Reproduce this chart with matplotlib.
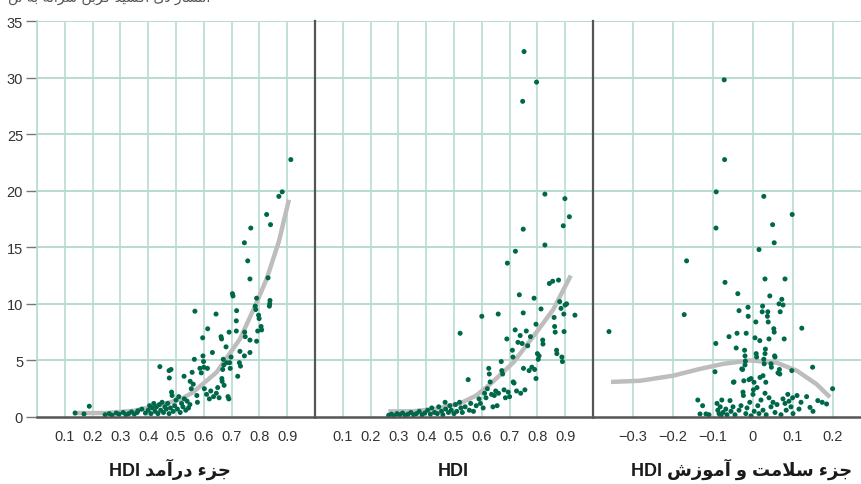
import matplotlib
matplotlib.use("Agg")
import matplotlib.pyplot as plt
from matplotlib import font_manager

# ---------------- data ----------------
income_x = [0.137,0.169,0.188,0.245,0.26,0.27,0.285,0.295,0.31,0.32,0.33,0.34,0.35,0.36,
            0.363,0.377,0.39,0.40,0.405,0.41,0.415,0.42,0.425,0.43,0.435,0.44,0.445,0.45,0.455,0.46,0.465,0.47,0.475,0.48,
            0.442,0.475,0.476,0.482,0.484,0.486,
            0.49,0.495,0.50,0.505,0.51,0.515,0.52,0.525,0.53,0.535,0.54,0.545,0.55,
            0.529,0.551,0.555,0.558,0.562,0.566,0.568,0.575,0.577,0.586,0.591,0.596,0.597,0.599,0.60,0.602,0.61,0.613,0.614,
            0.62,0.625,0.631,0.635,0.644,0.645,0.65,0.655,0.662,0.664,0.665,0.666,0.668,0.67,0.672,0.673,0.68,0.682,0.687,
            0.69,0.691,0.693,0.695,0.698,0.703,0.705,0.717,0.717,0.718,0.722,0.728,0.73,0.732,0.746,0.746,0.747,0.749,
            0.758,0.766,0.766,0.766,0.769,0.785,0.787,0.79,0.79,0.794,0.797,0.799,0.806,0.808,0.826,0.831,0.838,0.837,
            0.836,0.84,0.87,0.882,0.913]
income_y = [0.35,0.27,0.95,0.2,0.3,0.15,0.35,0.25,0.4,0.2,0.3,0.45,0.25,0.4,
            0.55,0.7,0.35,0.6,1.0,0.3,0.8,1.2,0.5,0.9,0.3,1.1,0.6,1.3,0.4,0.9,0.7,1.2,0.3,0.8,
            4.45,4.1,3.45,4.2,2.2,1.9,
            0.5,1.0,1.5,0.7,1.8,0.4,1.2,0.9,1.6,0.6,1.4,0.8,1.1,
            3.6,3.15,2.5,3.95,2.9,5.1,9.35,1.9,1.3,4.3,3.9,7.0,5.4,4.9,4.4,2.5,2.0,4.3,7.8,
            1.6,2.3,5.7,1.8,9.1,2.1,2.6,1.7,7.1,6.9,3.4,3.15,4.2,5.1,4.6,2.8,6.2,4.8,1.8,
            1.6,7.5,4.8,4.3,5.3,10.9,10.7,8.5,7.6,9.4,3.6,4.8,5.8,4.5,15.4,5.4,7.5,7.1,
            13.8,12.2,6.8,5.7,16.7,9.8,9.5,10.5,6.7,7.6,9.0,8.7,8.0,7.7,17.9,12.3,10.3,10.0,
            9.8,17.0,19.5,19.9,22.75]
income_fit_x = [0.13,0.25,0.35,0.45,0.52,0.562,0.646,0.73,0.79,0.826,0.87,0.906]
income_fit_y = [0.35,0.35,0.55,1.1,1.6,2.2,3.95,6.9,10.1,12.2,15.5,19.2]

hdi_x = [0.265,0.275,0.285,0.295,0.305,0.315,0.325,0.335,0.345,0.355,0.365,0.375,0.385,0.395,0.405,0.415,0.42,
         0.43,0.44,0.445,0.455,0.46,0.468,0.47,0.48,0.485,0.49,0.50,0.505,0.51,0.52,0.522,0.525,0.53,0.54,0.551,
         0.555,0.56,0.57,0.58,0.59,0.595,0.60,0.605,0.61,0.615,0.62,0.625,0.627,0.63,0.635,0.64,0.645,0.65,0.655,
         0.659,0.66,0.67,0.672,0.675,0.68,0.685,0.69,0.692,0.695,0.70,0.71,0.712,0.713,0.716,0.72,0.721,0.725,0.73,
         0.735,0.738,0.74,0.745,0.747,0.749,0.749,0.75,0.752,0.755,0.76,0.765,0.77,0.775,0.78,0.788,0.79,0.795,0.795,
         0.797,0.80,0.803,0.806,0.813,0.819,0.82,0.827,0.827,0.843,0.855,0.86,0.862,0.864,0.869,0.87,0.876,0.88,
         0.885,0.888,0.89,0.893,0.895,0.896,0.899,0.90,0.905,0.915,0.935]
hdi_y = [0.15,0.25,0.1,0.3,0.2,0.35,0.15,0.25,0.4,0.2,0.3,0.5,0.2,0.35,0.6,0.25,0.8,
         0.4,0.3,0.9,0.5,0.2,1.3,0.7,0.4,1.0,0.6,0.3,1.1,0.5,1.3,7.4,0.8,0.4,0.9,3.3,
         0.6,1.2,0.5,1.0,1.6,1.2,8.9,0.8,2.1,1.7,2.5,4.3,3.8,3.1,2.0,0.9,1.9,2.3,1.0,
         9.1,2.1,4.9,4.1,3.8,2.4,1.7,6.9,13.6,2.2,1.8,5.9,5.3,3.1,3.0,7.7,14.65,2.3,6.6,
         10.8,7.2,2.1,6.5,27.9,16.6,9.2,4.3,32.3,2.4,7.6,6.3,4.1,7.1,4.4,10.5,4.2,8.2,3.4,
         29.6,5.6,5.1,5.4,9.55,6.8,6.45,19.7,15.2,11.8,12.0,8.8,8.0,7.5,5.9,5.6,12.1,10.2,
         9.6,5.3,4.9,16.9,9.1,7.55,19.3,9.9,10.0,17.7,9.0]
hdi_fit_x = [0.264,0.35,0.43,0.522,0.58,0.63,0.713,0.797,0.857,0.92]
hdi_fit_y = [0.5,0.5,0.7,1.2,1.9,2.9,4.8,7.5,9.5,12.5]

health_x = [-0.36,-0.172,-0.166,-0.138,-0.126,-0.1325,-0.1175,-0.11,-0.095,-0.093,-0.0925,-0.092,-0.09,-0.088,
            -0.085,-0.082,-0.08,-0.078,-0.075,-0.072,-0.071,-0.07,-0.068,-0.065,-0.06,-0.0575,-0.055,-0.05,-0.049,
            -0.0475,-0.045,-0.042,-0.04,-0.038,-0.035,-0.035,-0.03,-0.028,-0.026,-0.025,-0.024,-0.023,-0.02,-0.021,
            -0.019,-0.02,-0.018,-0.017,-0.015,-0.0125,-0.012,-0.01,-0.008,-0.005,-0.005,0.0,0.001,0.0025,0.003,
            0.005,0.007,0.008,0.009,0.01,0.012,0.015,0.015,0.017,0.0175,0.02,0.024,0.023,0.025,0.025,0.027,0.027,
            0.028,0.03,0.031,0.03,0.03,0.032,0.033,0.037,0.036,0.038,0.04,0.04,0.042,0.045,0.046,0.045,0.049,0.05,
            0.052,0.053,0.053,0.054,0.055,0.055,0.06,0.0625,0.065,0.066,0.067,0.068,0.07,0.072,0.075,0.075,0.078,
            0.08,0.08,0.083,0.087,0.09,0.095,0.097,0.098,0.099,0.1,0.11,0.115,0.122,0.12,0.134,0.1425,0.149,0.15,
            0.162,0.173,0.184,0.199]
health_y = [7.55,9.05,13.8,1.5,1.0,0.27,0.27,0.2,4.0,6.5,16.7,19.9,1.2,0.6,
            0.3,0.9,0.1,1.5,0.4,29.8,22.75,11.9,0.7,0.2,7.1,1.45,0.5,0.9,3.07,
            3.1,0.2,6.1,7.4,10.9,9.4,0.6,1.0,4.25,4.2,2.2,1.9,3.2,5.4,5.9,
            4.95,4.6,0.3,7.4,0.8,9.7,8.9,3.3,1.3,3.4,0.1,2.0,2.4,3.07,0.5,
            7.0,8.4,5.6,5.3,2.6,1.0,14.8,0.3,6.75,3.5,1.5,9.8,9.3,3.65,0.6,19.5,5.1,
            4.7,12.2,6.0,5.6,2.1,3.07,0.2,9.3,8.9,8.4,6.9,1.7,10.7,4.7,4.4,0.9,17.0,1.3,
            7.8,7.5,15.4,5.4,5.3,0.4,1.1,3.9,10.0,4.2,3.8,9.3,0.2,10.4,9.9,1.6,6.9,
            12.2,1.2,0.6,2.0,1.4,0.9,4.1,17.9,1.7,0.3,1.9,0.7,7.85,1.3,1.8,0.85,4.4,0.5,
            1.45,1.3,1.15,2.5]
health_fit_x = [-0.355,-0.283,-0.2,-0.1325,-0.074,-0.0075,0.059,0.109,0.159,0.1925]
health_fit_y = [3.1,3.2,3.65,4.25,4.7,5.0,4.8,4.1,2.9,1.75]

y_ticks = [0, 5, 10, 15, 20, 25, 30, 35]
p1_ticks = [0.1, 0.2, 0.3, 0.4, 0.5, 0.6, 0.7, 0.8, 0.9]
p3_ticks = [-0.3, -0.2, -0.1, 0.0, 0.1, 0.2]
p3_labels = ["\u22120.3", "\u22120.2", "\u22120.1", "0", "0.1", "0.2"]

label_income = "جزء درآمد HDI"
label_hdi = "HDI"
label_health = "جزء سلامت و آموزش HDI"
title_text = "انتشار دی اکسید کربن سرانه به تن"

# ------------- minimal Arabic/Persian shaping -------------
FORMS = {
    'ء': ('\uFE80', None, None, None),
    'آ': ('\uFE81', '\uFE82', None, None),
    'ا': ('\uFE8D', '\uFE8E', None, None),
    'ب': ('\uFE8F', '\uFE90', '\uFE91', '\uFE92'),
    'ت': ('\uFE95', '\uFE96', '\uFE97', '\uFE98'),
    'ج': ('\uFE9D', '\uFE9E', '\uFE9F', '\uFEA0'),
    'د': ('\uFEA9', '\uFEAA', None, None),
    'ر': ('\uFEAD', '\uFEAE', None, None),
    'ز': ('\uFEAF', '\uFEB0', None, None),
    'س': ('\uFEB1', '\uFEB2', '\uFEB3', '\uFEB4'),
    'ش': ('\uFEB5', '\uFEB6', '\uFEB7', '\uFEB8'),
    'ک': ('\uFB8E', '\uFB8F', '\uFB90', '\uFB91'),
    'ل': ('\uFEDD', '\uFEDE', '\uFEDF', '\uFEE0'),
    'م': ('\uFEE1', '\uFEE2', '\uFEE3', '\uFEE4'),
    'ن': ('\uFEE5', '\uFEE6', '\uFEE7', '\uFEE8'),
    'ه': ('\uFEE9', '\uFEEA', '\uFEEB', '\uFEEC'),
    'و': ('\uFEED', '\uFEEE', None, None),
    'ی': ('\uFBFC', '\uFBFD', '\uFBFE', '\uFBFF'),
}
LAMALEF = {'ا': ('\uFEFB', '\uFEFC'), 'آ': ('\uFEF5', '\uFEF6')}


def shape_word(w):
    out = []
    i = 0
    n = len(w)
    while i < n:
        c = w[i]
        if c not in FORMS:
            out.append(c)
            i += 1
            continue
        prev = w[i - 1] if i > 0 else None
        join_prev = prev in FORMS and FORMS[prev][2] is not None and FORMS[c][1] is not None
        if c == 'ل' and i + 1 < n and w[i + 1] in LAMALEF:
            out.append(LAMALEF[w[i + 1]][1 if join_prev else 0])
            i += 2
            continue
        nxt = w[i + 1] if i + 1 < n else None
        join_next = FORMS[c][2] is not None and nxt in FORMS and FORMS[nxt][1] is not None
        iso, fin, ini, med = FORMS[c]
        if join_prev and join_next:
            out.append(med)
        elif join_prev:
            out.append(fin)
        elif join_next:
            out.append(ini)
        else:
            out.append(iso)
        i += 1
    return "".join(out)


def rtl(text):
    words = text.split(" ")
    vis = []
    for w in reversed(words):
        if any(ch in FORMS for ch in w):
            vis.append(shape_word(w)[::-1])
        else:
            vis.append(w)
    return " ".join(vis)


# ---------------- fonts ----------------
avail = {f.name for f in font_manager.fontManager.ttflist}
narrow = 'Liberation Sans Narrow' if 'Liberation Sans Narrow' in avail else 'Liberation Sans'
plt.rcParams['font.family'] = [narrow, 'DejaVu Sans']

# ---------------- figure ----------------
W, H = 862, 485
fig = plt.figure(figsize=(W / 100, H / 100), dpi=100)
fig.patch.set_facecolor('white')

grid_c = '#b9dbcf'
dot_c = '#00684a'
fit_c = '#bdbdbd'
axis_c = '#555555'
text_c = '#333333'

bottom = 67 / H
height = 396 / H
ax1 = fig.add_axes([37 / W, bottom, 278 / W, height])
ax2 = fig.add_axes([315 / W, bottom, 278 / W, height])
ax3 = fig.add_axes([593 / W, bottom, 269 / W, height])

panels = [
    (ax1, income_x, income_y, income_fit_x, income_fit_y, (0, 1.0)),
    (ax2, hdi_x, hdi_y, hdi_fit_x, hdi_fit_y, (0, 1.0)),
    (ax3, health_x, health_y, health_fit_x, health_fit_y, (-0.4, 0.2725)),
]

for ax, xs, ys, fx, fy, xl in panels:
    ax.set_xlim(*xl)
    ax.set_ylim(0, 35)
    ax.set_facecolor('white')
    for yt in y_ticks[1:]:
        ax.axhline(yt, color=grid_c, lw=1.4, zorder=0)
    ax.plot(fx, fy, color=fit_c, lw=3.2, solid_capstyle='butt', zorder=2)
    ax.scatter(xs, ys, s=13, color=dot_c, edgecolors='none', zorder=3, clip_on=False)
    for s in ['top', 'right', 'left']:
        ax.spines[s].set_visible(False)
    ax.spines['bottom'].set_color(axis_c)
    ax.spines['bottom'].set_linewidth(1.8)
    ax.spines['bottom'].set_zorder(4)
    ax.tick_params(axis='x', length=0, pad=9, labelsize=10.5, labelcolor=text_c)
    ax.tick_params(axis='y', length=0)

# vertical gridlines
for v in [0.0] + p1_ticks:
    ax1.axvline(v, color=grid_c, lw=1.2, zorder=0)
for v in p1_ticks:
    ax2.axvline(v, color=grid_c, lw=1.2, zorder=0)
for v in p3_ticks:
    ax3.axvline(v, color=grid_c, lw=1.2, zorder=0)

ax1.set_xticks(p1_ticks)
ax1.set_xticklabels([f"{t:.1f}" for t in p1_ticks])
ax2.set_xticks(p1_ticks)
ax2.set_xticklabels([f"{t:.1f}" for t in p1_ticks])
ax3.set_xticks(p3_ticks)
ax3.set_xticklabels(p3_labels)

ax1.set_yticks(y_ticks)
ax1.set_yticklabels([str(t) for t in y_ticks])
ax1.tick_params(axis='y', length=8, width=1, color='#777777', pad=2, labelsize=10.5, labelcolor=text_c)
ax1.spines['left'].set_visible(True)
ax1.spines['left'].set_color(grid_c)
ax1.spines['left'].set_linewidth(1.2)
for ax in (ax2, ax3):
    ax.set_yticks([])
    ax.spines['left'].set_visible(True)
    ax.spines['left'].set_color(axis_c)
    ax.spines['left'].set_linewidth(1.6)
    ax.spines['left'].set_zorder(4)

# axis titles (Persian, shaped)
lab_kw = dict(fontsize=13, fontweight='bold', color='#1a1a1a', ha='center', va='baseline',
              family=[narrow, 'DejaVu Sans'])
fig.text(170 / W, 1 - 476 / H, rtl(label_income), **lab_kw)
fig.text(453 / W, 1 - 476 / H, rtl(label_hdi), **lab_kw)
fig.text(742 / W, 1 - 476 / H, rtl(label_health), **lab_kw)

# title, mostly cut off at the top edge as in the reference
fig.text(8 / W, 1 + 2 / H, rtl(title_text), fontsize=10, color='#555555', ha='left', va='center',
         family=['DejaVu Sans'])

fig.savefig('out.png', dpi=100, facecolor='white')
